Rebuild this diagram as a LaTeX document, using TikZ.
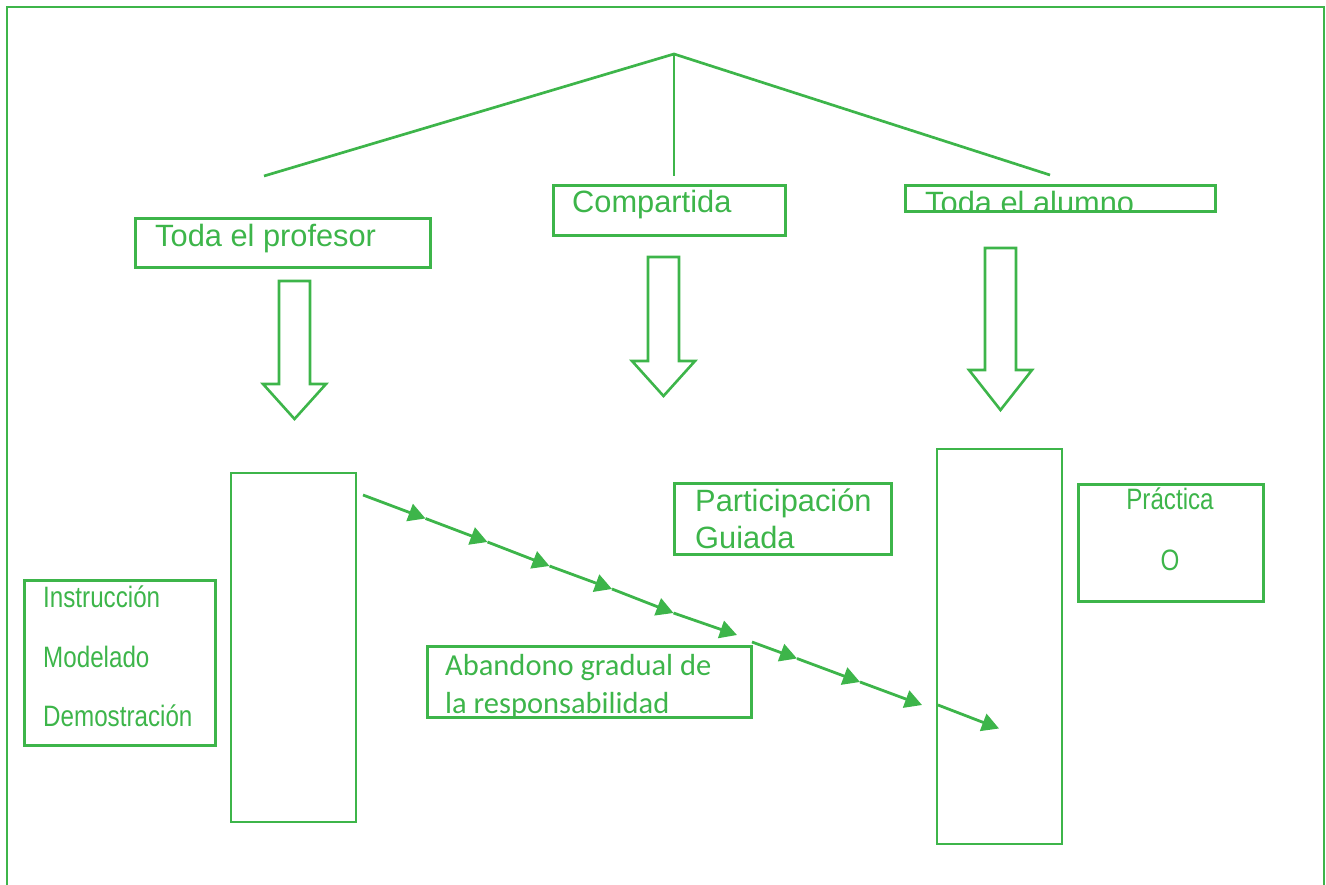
\documentclass[tikz,border=0pt]{standalone}
\usepackage{fontspec}
\setmainfont{Liberation Sans}
\newfontfamily\narrowfont[FakeStretch=0.82]{Liberation Sans}
\newfontfamily\calfont{Carlito}
\usetikzlibrary{arrows.meta}
\definecolor{grn}{RGB}{61,181,74}

% hollow downward block arrow: centre x, top, bottom of shaft, tip
\newcommand\downblock[4]{%
  \draw[blockarrow] (#1-15.5,#2) -- (#1+15.5,#2) -- (#1+15.5,#3) -- (#1+31.5,#3)
    -- (#1,#4) -- (#1-31.5,#3) -- (#1-15.5,#3) -- cycle;}

\begin{document}
\begin{tikzpicture}[x=1pt,y=-1pt,line join=miter,
  frame/.style={draw=grn,line width=2pt},
  box/.style={draw=grn,line width=3pt,inner sep=0pt,outer sep=0pt,anchor=north west},
  tall/.style={draw=grn,line width=2.5pt,inner sep=0pt,outer sep=0pt,anchor=north west},
  lbl/.style={text=grn,inner sep=0pt,anchor=base west,font=\fontsize{30.8}{36}\selectfont},
  nlbl/.style={text=grn,inner sep=0pt,anchor=base west,font=\narrowfont\fontsize{29.5}{36}\selectfont},
  clbl/.style={text=grn,inner sep=0pt,anchor=base west,font=\calfont\fontsize{30.5}{36}\selectfont},
  branch/.style={draw=grn,line width=2.7pt},
  seg/.style={draw=grn,line width=2.8pt,-{Triangle[length=17pt,width=18pt]}},
  blockarrow/.style={draw=grn,line width=2.6pt}]

\useasboundingbox (0,0) rectangle (1326,885);

% outer frame, open at the bottom
\draw[frame] (7,885) -- (7,7) -- (1324,7) -- (1324,885);

% tree of three branches
\coordinate (apex) at (674,54);
\coordinate (legL) at (264,176);
\coordinate (legM) at (674,176);
\coordinate (legR) at (1050,175);
\draw[branch] (legL) -- (apex) -- (legR);
\draw[branch] (apex) -- (legM);

% heading boxes
\node[lbl] (tProf) at (155,247) {Toda el profesor};
\node[box,minimum width=295pt,minimum height=49.5pt] (bProf) at (135,218.5) {};
\node[lbl] (tComp) at (572,213) {Compartida};
\node[box,minimum width=232pt,minimum height=49.5pt] (bComp) at (553,186) {};
\begin{scope}
  \clip (905,186) rectangle (1215,211.5);
  \node[lbl] (tAlum) at (925,214) {Toda el alumno};
\end{scope}
\node[box,minimum width=310pt,minimum height=25.5pt] (bAlum) at (905,186) {};

% hollow block arrows
\downblock{294.5}{281}{384}{419}
\downblock{663.5}{257}{361}{396}
\downblock{1000.5}{248}{370}{410}

% tall columns
\node[tall,minimum width=125pt,minimum height=349pt] (colA) at (231,473) {};
\node[tall,minimum width=125pt,minimum height=395pt] (colB) at (937,449) {};

% stage boxes
\node[nlbl] (tInst1) at (43,607) {Instrucción};
\node[nlbl] (tInst2) at (43,667) {Modelado};
\node[nlbl] (tInst3) at (43,726) {Demostración};
\node[box,minimum width=191pt,minimum height=165pt] (bInst) at (24,580) {};

\node[lbl] (tPart1) at (695,511) {Participación};
\node[lbl] (tPart2) at (695,548) {Guiada};
\node[box,minimum width=217pt,minimum height=71pt] (bPart) at (674,483) {};

\node[nlbl,anchor=base] (tPrac1) at (1170,509) {Práctica};
\node[nlbl,anchor=base] (tPrac2) at (1170,570) {O};
\node[box,minimum width=185pt,minimum height=117pt] (bPrac) at (1078,484) {};

\node[clbl] (tAban1) at (445,675) {Abandono gradual de};
\begin{scope}
  \clip (427,646) rectangle (751,717);
  \node[clbl] (tAban2) at (445,713) {la responsabilidad};
\end{scope}
\node[box,minimum width=324pt,minimum height=71pt] (bAban) at (427,646) {};

% chain of arrows across the diagram
\coordinate (c0) at (363,495);
\coordinate (c1) at (425.5,518.5);
\coordinate (c2) at (487.5,542);
\coordinate (c3) at (549.5,566);
\coordinate (c4) at (612,589);
\coordinate (c5) at (673.5,613);
\coordinate (c6) at (737,635);
\coordinate (c7) at (752,642);
\coordinate (c8) at (797,658.5);
\coordinate (c9) at (860,682);
\coordinate (c10) at (922,705);
\coordinate (c11) at (938,705);
\coordinate (c12) at (999,728.5);
\draw[seg] (c0) -- (c1);
\draw[seg] (c1) -- (c2);
\draw[seg] (c2) -- (c3);
\draw[seg] (c3) -- (c4);
\draw[seg] (c4) -- (c5);
\draw[seg] (c5) -- (c6);
\draw[seg] (c7) -- (c8);
\draw[seg] (c8) -- (c9);
\draw[seg] (c9) -- (c10);
\draw[seg] (c11) -- (c12);
\end{tikzpicture}
\end{document}
